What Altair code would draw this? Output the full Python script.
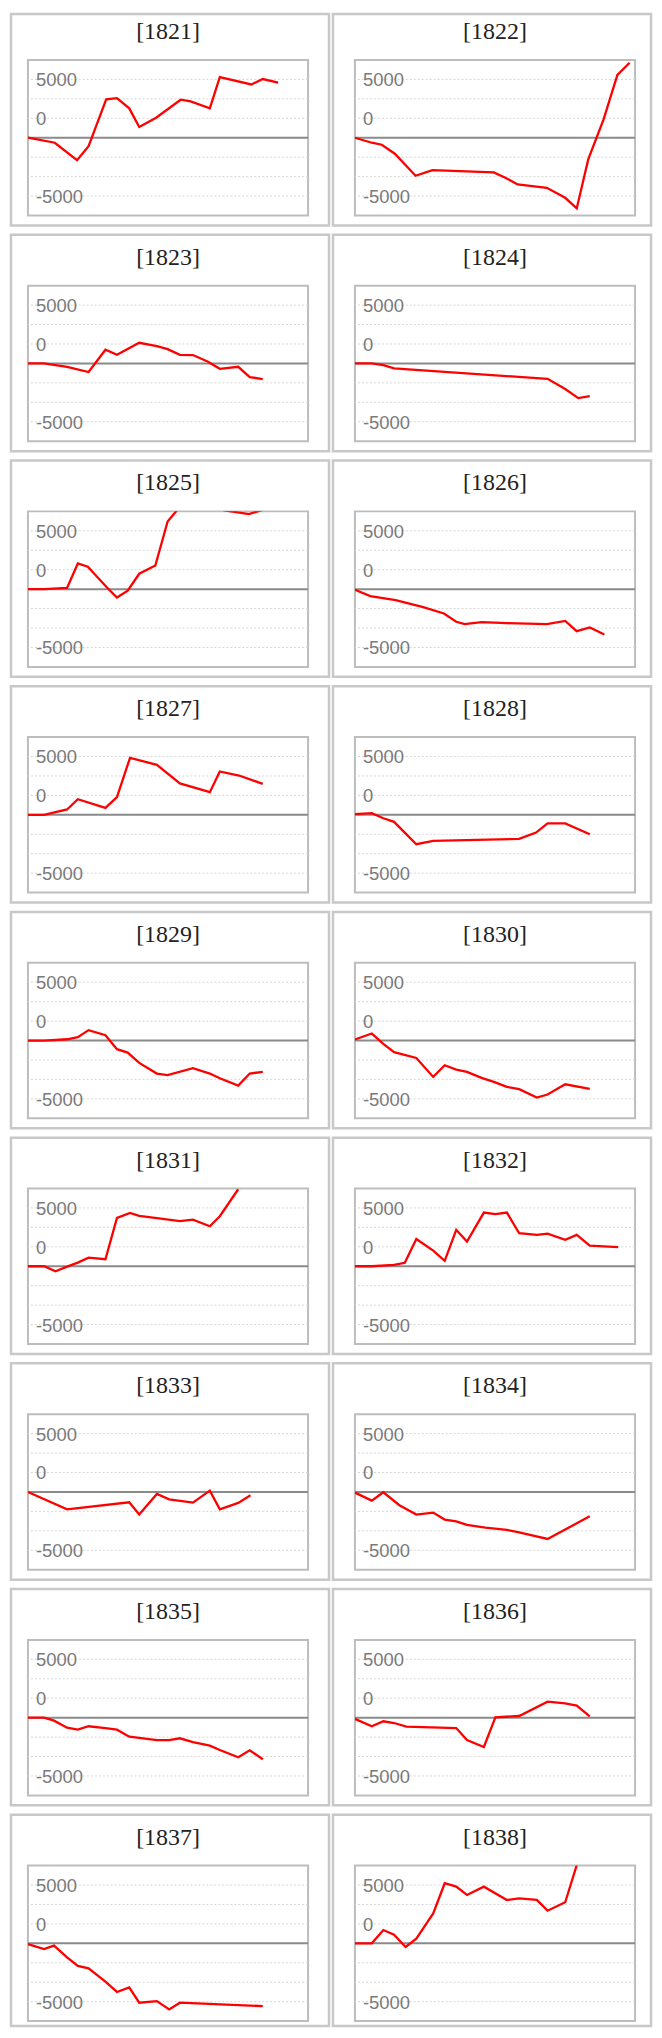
import altair as alt
import pandas as pd

# ---- data (day of year, value) per year ----
YEARS = [1821, 1822, 1823, 1824, 1825, 1826, 1827, 1828, 1829,
         1830, 1831, 1832, 1833, 1834, 1835, 1836, 1837, 1838]

D_1821 = [0, 35, 64, 79, 102, 116, 132, 145, 167, 199, 212, 237, 250, 291, 306, 326]
V_1821 = [0, -430, -1920, -720, 3290, 3400, 2520, 920, 1720, 3260, 3120, 2520, 5200, 4570, 5030, 4720]

D_1822 = [0, 22, 35, 52, 79, 101, 181, 196, 212, 250, 274, 289, 304, 324, 342, 358]
V_1822 = [0, -430, -600, -1370, -3260, -2770, -2970, -3430, -4000, -4290, -5150, -6060, -1860, 1570, 5380, 6430]

D_1823 = [0, 21, 51, 79, 101, 116, 145, 168, 182, 198, 215, 234, 250, 274, 289, 306]
V_1823 = [0, 0, -290, -740, 1170, 740, 1770, 1490, 1230, 740, 720, 170, -460, -290, -1170, -1340]

D_1824 = [0, 22, 37, 51, 251, 274, 291, 306]
V_1824 = [0, 0, -140, -430, -1320, -2200, -2970, -2800]

D_1825 = [0, 21, 51, 65, 78, 103, 116, 130, 145, 166, 182, 201, 226, 256, 288, 306]
V_1825 = [0, 0, 110, 2200, 1920, 140, -720, -140, 1320, 2030, 5800, 7300, 7400, 6750, 6440, 6800]

D_1826 = [0, 20, 53, 89, 116, 132, 143, 165, 198, 250, 274, 289, 306, 325]
V_1826 = [-50, -600, -940, -1540, -2090, -2800, -3000, -2830, -2920, -3000, -2720, -3600, -3290, -3890]

D_1827 = [0, 21, 51, 65, 101, 116, 133, 168, 198, 237, 250, 275, 306]
V_1827 = [0, 0, 460, 1340, 600, 1520, 4890, 4290, 2690, 1940, 3720, 3370, 2660]

D_1828 = [0, 22, 37, 51, 80, 102, 214, 236, 251, 274, 306]
V_1828 = [60, 140, -290, -600, -2520, -2230, -2060, -1520, -740, -740, -1660]

D_1829 = [0, 21, 51, 65, 79, 101, 116, 130, 145, 168, 182, 215, 237, 250, 274, 289, 306]
V_1829 = [0, 0, 110, 290, 890, 460, -740, -1030, -1920, -2830, -2970, -2370, -2830, -3230, -3860, -2830, -2690]

D_1830 = [0, 22, 37, 51, 80, 102, 117, 132, 146, 165, 181, 198, 214, 237, 251, 274, 306]
V_1830 = [90, 600, -290, -1000, -1490, -3120, -2120, -2490, -2690, -3200, -3550, -3970, -4170, -4890, -4630, -3750, -4150]

D_1831 = [0, 21, 36, 51, 65, 79, 101, 116, 133, 145, 168, 198, 215, 237, 250, 274]
V_1831 = [0, 0, -430, -30, 310, 740, 600, 4150, 4570, 4320, 4120, 3860, 4000, 3430, 4290, 6600]

D_1832 = [0, 22, 51, 65, 80, 102, 117, 132, 146, 168, 183, 198, 214, 237, 251, 274, 289, 306, 343]
V_1832 = [0, 0, 110, 290, 2340, 1340, 460, 3120, 2120, 4600, 4460, 4600, 2830, 2690, 2800, 2260, 2690, 1770, 1630]

D_1833 = [0, 51, 132, 145, 168, 184, 215, 237, 250, 274, 290]
V_1833 = [0, -1490, -890, -1940, -170, -630, -920, 110, -1490, -940, -290]

D_1834 = [0, 22, 37, 58, 80, 102, 117, 132, 146, 170, 198, 214, 251, 306]
V_1834 = [-60, -740, -30, -1140, -1940, -1770, -2370, -2520, -2830, -3060, -3260, -3460, -4030, -2090]

D_1835 = [0, 21, 34, 51, 65, 79, 101, 116, 132, 145, 168, 184, 198, 215, 237, 250, 274, 289, 306]
V_1835 = [0, 0, -260, -860, -1030, -740, -890, -1030, -1630, -1740, -1920, -1920, -1770, -2090, -2400, -2770, -3400, -2800, -3570]

D_1836 = [0, 22, 37, 51, 67, 132, 146, 168, 183, 214, 251, 274, 289, 306]
V_1836 = [-110, -740, -310, -460, -770, -890, -1920, -2520, 30, 140, 1370, 1230, 1030, 110]

D_1837 = [0, 21, 34, 51, 65, 79, 101, 116, 132, 145, 168, 184, 198, 306]
V_1837 = [-60, -490, -200, -1200, -1940, -2140, -3290, -4170, -3770, -5090, -4950, -5660, -5090, -5380]

D_1838 = [0, 22, 37, 51, 66, 80, 102, 117, 132, 146, 168, 198, 214, 237, 251, 274, 289]
V_1838 = [0, 0, 1140, 740, -310, 400, 2570, 5150, 4860, 4150, 4860, 3720, 3860, 3720, 2800, 3520, 6700]

SERIES = {
    1821: (D_1821, V_1821), 1822: (D_1822, V_1822), 1823: (D_1823, V_1823),
    1824: (D_1824, V_1824), 1825: (D_1825, V_1825), 1826: (D_1826, V_1826),
    1827: (D_1827, V_1827), 1828: (D_1828, V_1828), 1829: (D_1829, V_1829),
    1830: (D_1830, V_1830), 1831: (D_1831, V_1831), 1832: (D_1832, V_1832),
    1833: (D_1833, V_1833), 1834: (D_1834, V_1834), 1835: (D_1835, V_1835),
    1836: (D_1836, V_1836), 1837: (D_1837, V_1837), 1838: (D_1838, V_1838),
}

# axis: gridlines and the (inside) labels
GRID_VALUES = [-5000, -3333.33, -1666.67, 1666.67, 3333.33, 5000]
LABEL_VALUES = [5000, 1666.67, -5000]
LABEL_TEXT = ["5000", "0", "-5000"]
Y_DOMAIN = [-6666.67, 6666.67]
X_DOMAIN = [0, 365]

W, H = 281, 156


def panel(year, row, col):
    days, vals = SERIES[year]
    ys = alt.Scale(domain=Y_DOMAIN, nice=False, zero=False)
    xs = alt.Scale(domain=X_DOMAIN, nice=False, zero=False)

    # outer cell frame
    if col == 0:
        bx1, bx2 = -17, 302
    else:
        bx1, bx2 = -22, 297
    by1 = -46 if row == 0 else -51
    by2 = 166 if row < 8 else 161
    meta = pd.DataFrame({"t": [f"[{year}]"]})
    box = alt.Chart(meta).mark_rect(
        fill="white", fillOpacity=0, stroke="#c8c8c8", strokeWidth=2.5
    ).encode(
        x=alt.value(bx1), x2=alt.value(bx2), y=alt.value(by1), y2=alt.value(by2)
    )
    title = alt.Chart(meta).mark_text(
        font="Liberation Serif", fontSize=24, color="#222222",
        align="center", baseline="alphabetic"
    ).encode(x=alt.value(W / 2), y=alt.value(-21), text="t:N")

    grid = alt.Chart(pd.DataFrame({"g": GRID_VALUES})).mark_rule(
        color="#d6d6d6", strokeDash=[2, 2], strokeWidth=1
    ).encode(y=alt.Y("g:Q", scale=ys, axis=None))

    zero = alt.Chart(pd.DataFrame({"z": [0]})).mark_rule(
        color="#8a8a8a", strokeWidth=2
    ).encode(y=alt.Y("z:Q", scale=ys, axis=None))

    labels = alt.Chart(pd.DataFrame({"v": LABEL_VALUES, "lab": LABEL_TEXT})).mark_text(
        font="Liberation Sans", fontSize=18.5, color="#7a7a7a",
        align="left", baseline="middle", dy=1
    ).encode(x=alt.value(8), y=alt.Y("v:Q", scale=ys, axis=None), text="lab:N")

    line = alt.Chart(pd.DataFrame({"day": days, "value": vals})).mark_line(
        color="#ff0000", strokeWidth=2.3, clip=True
    ).encode(
        x=alt.X("day:Q", scale=xs, axis=None),
        y=alt.Y("value:Q", scale=ys, axis=None),
    )

    return alt.layer(box, title, grid, zero, labels, line).properties(width=W, height=H)


panels = []
for i, yr in enumerate(YEARS):
    panels.append(panel(yr, i // 2, i % 2))

chart = alt.concat(
    *panels, columns=2, spacing={"row": 70.4, "column": 47}, bounds="flush"
).properties(
    padding={"left": 0, "top": 0, "right": 0, "bottom": 0},
    background="white",
).configure_view(stroke="#bdbdbd", strokeWidth=2)

chart.save("out.html", embed_options={"renderer": "svg", "actions": False})
